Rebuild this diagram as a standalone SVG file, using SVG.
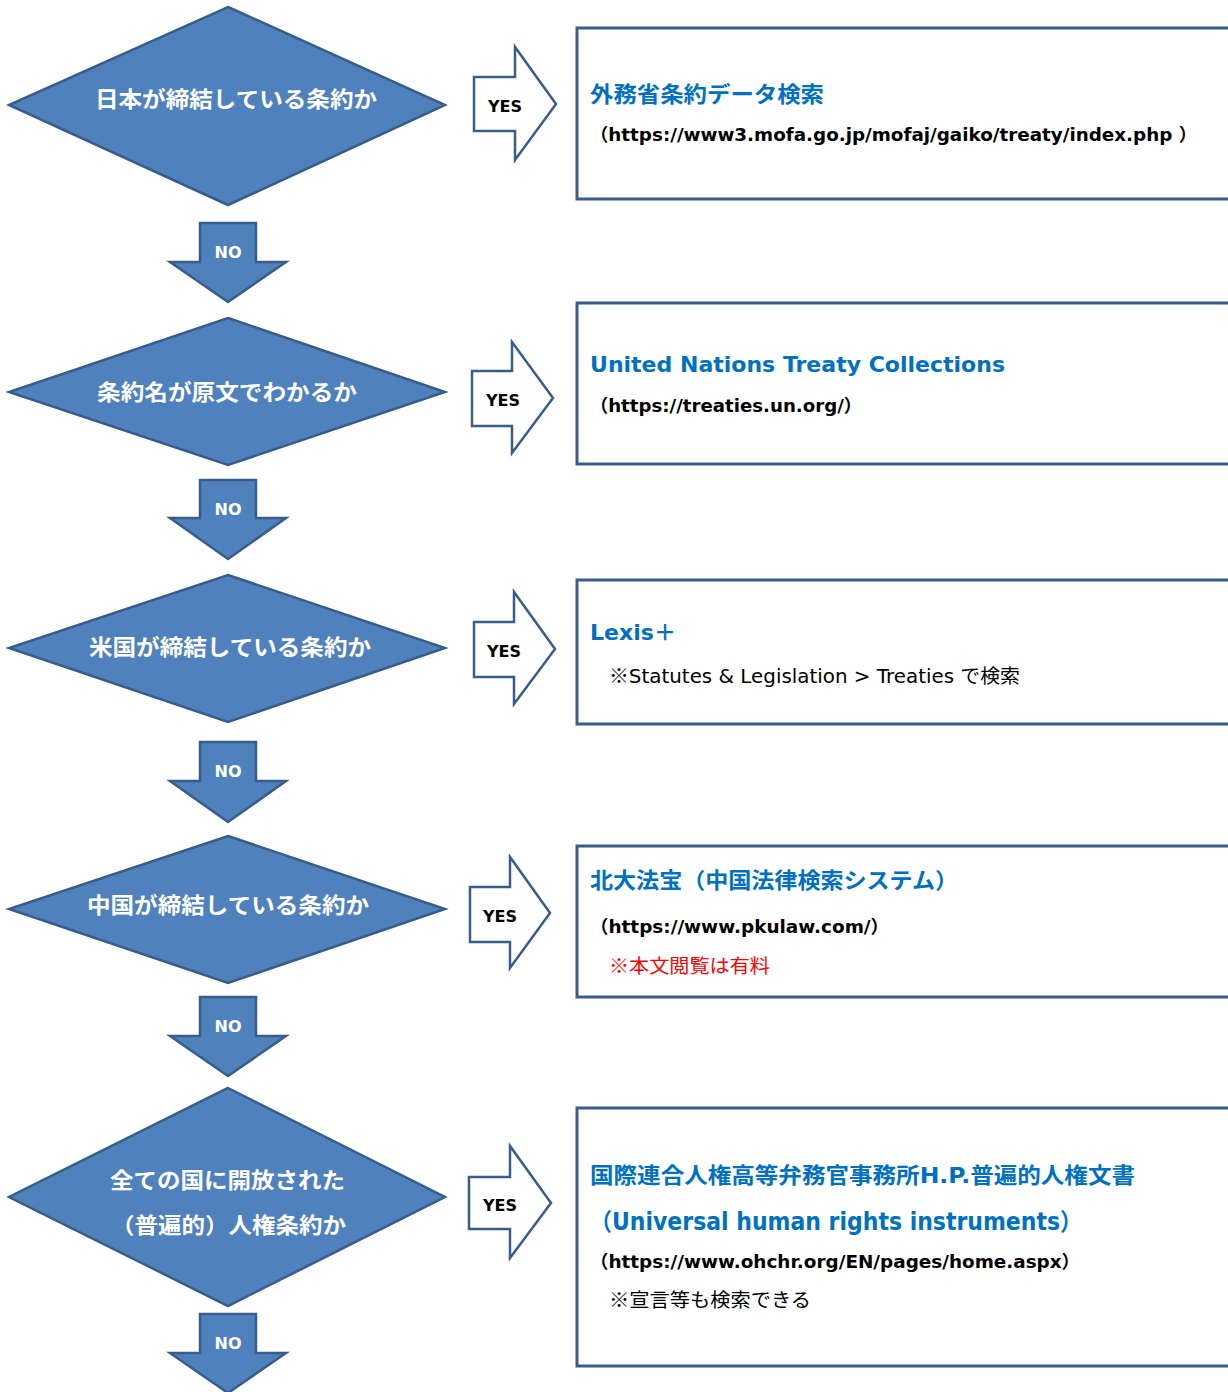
<svg xmlns="http://www.w3.org/2000/svg" width="1228" height="1392" viewBox="0 0 1228 1392">
<style>
.dia{fill:#4f81bd;stroke:#385d8a;stroke-width:2.5}
.no{fill:#4f81bd;stroke:#385d8a;stroke-width:2.5}
.yes{fill:#fff;stroke:#385d8a;stroke-width:2.5}
.box{fill:#fff;stroke:#385d8a;stroke-width:3}
text{font-family:"DejaVu Sans","Noto Sans CJK JP",sans-serif}
.cjk{font-family:"Noto Sans CJK JP",sans-serif}
.dt{font-family:"Noto Sans CJK JP",sans-serif;font-weight:bold;font-size:22px;fill:#fff}
.nt{font-weight:bold;font-size:16px;fill:#fff;text-anchor:middle}
.yt{font-weight:bold;font-size:16px;fill:#000;text-anchor:middle}
.ti{font-weight:bold;font-size:22px;fill:#0070c0}
.url{font-weight:bold;font-size:18px;fill:#000}
.note{font-size:19px;fill:#000}
.red{font-size:19px;fill:#ff0000}
</style>
<rect width="1228" height="1392" fill="#fff"/>

<g id="q1">
<polygon class="dia" points="228,7 445,105 228,205 9,105"/>
<text class="dt" x="95" y="107" textLength="282" lengthAdjust="spacingAndGlyphs">日本が締結している条約か</text>
</g>
<g id="q2">
<polygon class="dia" points="228,318 445,392 228,465 9,392"/>
<text class="dt" x="97" y="400" textLength="260" lengthAdjust="spacingAndGlyphs">条約名が原文でわかるか</text>
</g>
<g id="q3">
<polygon class="dia" points="228,575 445,648 228,722 9,648"/>
<text class="dt" x="89" y="655" textLength="282" lengthAdjust="spacingAndGlyphs">米国が締結している条約か</text>
</g>
<g id="q4">
<polygon class="dia" points="228,836 445,909 228,983 9,909"/>
<text class="dt" x="87" y="913" textLength="282" lengthAdjust="spacingAndGlyphs">中国が締結している条約か</text>
</g>
<g id="q5">
<polygon class="dia" points="228,1088 445,1197 228,1306 9,1197"/>
<text class="dt" x="110" y="1188" textLength="235" lengthAdjust="spacingAndGlyphs">全ての国に開放された</text>
<text class="dt" x="111" y="1233" textLength="235" lengthAdjust="spacingAndGlyphs">（普遍的）人権条約か</text>
</g>

<g id="r1">
<rect class="box" x="577" y="28" width="670" height="171"/>
<text class="ti" x="590" y="102" textLength="234" lengthAdjust="spacingAndGlyphs">外務省条約データ検索</text>
<text class="url" x="590" y="141" textLength="607" lengthAdjust="spacingAndGlyphs">（https://www3.mofa.go.jp/mofaj/gaiko/treaty/index.php ）</text>
</g>
<g id="r2">
<rect class="box" x="577" y="303" width="670" height="161"/>
<text class="ti" x="590" y="372" textLength="415" lengthAdjust="spacingAndGlyphs">United Nations Treaty Collections</text>
<text class="url" x="590" y="412" textLength="272" lengthAdjust="spacingAndGlyphs">（https://treaties.un.org/）</text>
</g>
<g id="r3">
<rect class="box" x="577" y="580" width="670" height="144"/>
<text class="ti" x="590" y="640" textLength="86" lengthAdjust="spacingAndGlyphs">Lexis＋</text>
<text class="note" x="609" y="683" textLength="411" lengthAdjust="spacingAndGlyphs"><tspan class="cjk">※</tspan>Statutes &amp; Legislation &gt; Treaties で検索</text>
</g>
<g id="r4">
<rect class="box" x="577" y="846" width="670" height="151"/>
<text class="ti" x="590" y="888" textLength="368" lengthAdjust="spacingAndGlyphs">北大法宝（中国法律検索システム）</text>
<text class="url" x="590" y="933" textLength="299" lengthAdjust="spacingAndGlyphs">（https://www.pkulaw.com/）</text>
<text class="red cjk" x="609" y="973" textLength="161" lengthAdjust="spacingAndGlyphs">※本文閲覧は有料</text>
</g>
<g id="r5">
<rect class="box" x="577" y="1108" width="670" height="258"/>
<text class="ti" x="590" y="1183" textLength="545" lengthAdjust="spacingAndGlyphs">国際連合人権高等弁務官事務所H.P.普遍的人権文書</text>
<text class="ti" x="590" y="1230" style="font-size:24px" textLength="492" lengthAdjust="spacingAndGlyphs">（Universal human rights instruments）</text>
<text class="url" x="590" y="1268" textLength="490" lengthAdjust="spacingAndGlyphs">（https://www.ohchr.org/EN/pages/home.aspx）</text>
<text class="note cjk" x="609" y="1307" textLength="202" lengthAdjust="spacingAndGlyphs">※宣言等も検索できる</text>
</g>

<g id="connectors">
<g id="no1"><polygon class="no" points="200,223 256,223 256,262 286,262 228,302 170,262 200,262"/><text class="nt" x="228" y="258">NO</text></g>
<g id="no2"><polygon class="no" points="200,480 256,480 256,518 286,518 228,559 170,518 200,518"/><text class="nt" x="228" y="515">NO</text></g>
<g id="no3"><polygon class="no" points="200,742 256,742 256,781 286,781 228,822 170,781 200,781"/><text class="nt" x="228" y="777">NO</text></g>
<g id="no4"><polygon class="no" points="200,997 256,997 256,1036 286,1036 228,1076 170,1036 200,1036"/><text class="nt" x="228" y="1032">NO</text></g>
<g id="no5"><polygon class="no" points="200,1314 256,1314 256,1353 286,1353 228,1393 170,1353 200,1353"/><text class="nt" x="228" y="1349">NO</text></g>

<g id="yes1"><polygon class="yes" points="474,77 515,77 515,47 556,104 515,160 515,131 474,131"/><text class="yt" x="505" y="112">YES</text></g>
<g id="yes2"><polygon class="yes" points="472,371 512,371 512,342 553,398 512,453 512,426 472,426"/><text class="yt" x="503" y="406">YES</text></g>
<g id="yes3"><polygon class="yes" points="474,622 514,622 514,592 555,649 514,704 514,677 474,677"/><text class="yt" x="504" y="657">YES</text></g>
<g id="yes4"><polygon class="yes" points="470,887 510,887 510,857 550,913 510,968 510,942 470,942"/><text class="yt" x="500" y="922">YES</text></g>
<g id="yes5"><polygon class="yes" points="469,1177 510,1177 510,1146 551,1203 510,1258 510,1229 469,1229"/><text class="yt" x="500" y="1211">YES</text></g>
</g>
</svg>
